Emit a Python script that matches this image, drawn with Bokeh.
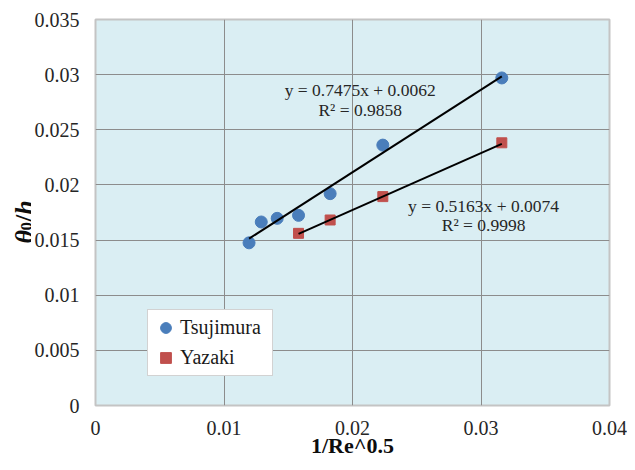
import math
from bokeh.plotting import figure
from bokeh.layouts import row
from bokeh.models import Label, FixedTicker, CustomJSTickFormatter, Legend, LegendItem, Range1d
from bokeh.embed import file_html
from bokeh.resources import INLINE

# ---- data ----
tsu_x = [0.01195, 0.0129, 0.01414, 0.0158, 0.01826, 0.02236, 0.03162]
tsu_y = [0.01475, 0.01664, 0.01697, 0.01724, 0.01921, 0.02361, 0.02970]
yaz_x = [0.0158, 0.01826, 0.02236, 0.03162]
yaz_y = [0.01561, 0.01682, 0.01894, 0.02382]

tsu_fit = (0.7475, 0.0062, 0.9858)
yaz_fit = (0.5163, 0.0074, 0.9998)

x_ticks = [0, 0.01, 0.02, 0.03, 0.04]
y_ticks = [0, 0.005, 0.01, 0.015, 0.02, 0.025, 0.03, 0.035]
x_title = "1/Re^0.5"

FONT = "Liberation Serif"
TXT = "#262626"
TITLE = "#0d0d0d"

LEFT_W = 31          # width of the y-title strip
BL, BR, BT, BB = 64, 18, 19, 57
FW, FH = 514, 386
PW = BL + FW + BR
PH = BT + FH + BB

p = figure(width=PW, height=PH,
           min_border_left=BL, min_border_right=BR, min_border_top=BT, min_border_bottom=BB,
           x_range=(0, 0.04), y_range=(0, 0.035),
           output_backend="svg", toolbar_location=None)
p.title = None

p.background_fill_color = "#daeef3"
p.border_fill_color = "white"
p.outline_line_color = "#c4c4c4"
p.outline_line_width = 2

fmt = CustomJSTickFormatter(code="return (Math.round(tick*1e6)/1e6).toString();")
for ax, ticks in ((p.xaxis[0], x_ticks), (p.yaxis[0], y_ticks)):
    ax.ticker = FixedTicker(ticks=ticks)
    ax.formatter = fmt
    ax.axis_line_color = None
    ax.major_tick_line_color = None
    ax.minor_tick_line_color = None
    ax.major_tick_out = 0
    ax.major_tick_in = 0
    ax.major_label_text_font = FONT
    ax.major_label_text_font_size = "20px"
    ax.major_label_text_color = TXT
p.xaxis.major_label_standoff = 15
p.yaxis.major_label_standoff = 16

p.xaxis.axis_label = x_title
p.xaxis.axis_label_text_font = FONT
p.xaxis.axis_label_text_font_style = "bold"
p.xaxis.axis_label_text_font_size = "22px"
p.xaxis.axis_label_text_color = TITLE
p.xaxis.axis_label_standoff = -5

p.xgrid.ticker = FixedTicker(ticks=x_ticks)
p.ygrid.ticker = FixedTicker(ticks=y_ticks)
p.grid.grid_line_color = "#8c8c8c"
p.grid.grid_line_width = 1

# markers
r_tsu = p.scatter(tsu_x, tsu_y, marker="circle", size=12, fill_color="#4a7ebb", line_color="#4a7ebb")
r_yaz = p.scatter(yaz_x, yaz_y, marker="square", size=10, fill_color="#c0504d", line_color="#c0504d")

# trend lines
for xs, (m, b, _) in ((tsu_x, tsu_fit), (yaz_x, yaz_fit)):
    x0, x1 = min(xs), max(xs)
    p.line([x0, x1], [m * x0 + b, m * x1 + b], line_color="black", line_width=2)

# equation labels
def eq_label(text, x, y):
    p.add_layout(Label(x=x, y=y, text=text, text_font=FONT, text_font_size="17.5px",
                       text_color=TXT, text_align="center", text_baseline="middle"))

eq_label("y = %.4fx + %.4f" % (tsu_fit[0], tsu_fit[1]), 0.0206, 0.02865)
eq_label("R² = %.4f" % tsu_fit[2], 0.0206, 0.02675)
eq_label("y = %.4fx + %.4f" % (yaz_fit[0], yaz_fit[1]), 0.0302, 0.01813)
eq_label("R² = %.4f" % yaz_fit[2], 0.0302, 0.01641)

# legend
legend = Legend(items=[LegendItem(label="Tsujimura", renderers=[r_tsu]),
                       LegendItem(label="Yazaki", renderers=[r_yaz])],
                location=(52, 29), padding=4, spacing=3,
                glyph_width=27, glyph_height=27, label_standoff=1, label_width=88,
                label_text_font=FONT, label_text_font_size="20px",
                label_text_color="#1a1a1a",
                border_line_color="#a6a6a6", border_line_width=1,
                background_fill_color="white", background_fill_alpha=1.0)
p.add_layout(legend, "center")

# y-title strip (mixed styles). Its frame is aligned with the main frame by the row
# layout, so the y range spans the frame's page rows (top BT, bottom BT+FH).
pl = figure(width=LEFT_W, height=PH, x_range=Range1d(start=0, end=LEFT_W),
            y_range=Range1d(start=BT + FH, end=BT), x_axis_type=None, y_axis_type=None,
            output_backend="svg", toolbar_location=None,
            min_border_left=0, min_border_right=0, min_border_top=0, min_border_bottom=0)
pl.title = None
pl.grid.visible = False
pl.outline_line_color = None
pl.background_fill_color = "white"
pl.border_fill_color = "white"

def piece(fig, text, x, y, size, style, angle=0.0):
    fig.add_layout(Label(x=x, y=y, text=text, angle=angle,
                         text_font=FONT, text_font_size=size, text_font_style=style,
                         text_color=TITLE, text_align="left", text_baseline="alphabetic"))

A = math.pi / 2
piece(pl, "θ", 24, 243, "26px", "bold italic", A)
piece(pl, "0", 26, 230, "17px", "bold", A)
piece(pl, "/", 24, 221.5, "26px", "bold", A)
piece(pl, "h", 24, 214.3, "26px", "bold italic", A)

layout = row(pl, p, spacing=0)

open("out.html", "w").write(file_html(layout, INLINE))
